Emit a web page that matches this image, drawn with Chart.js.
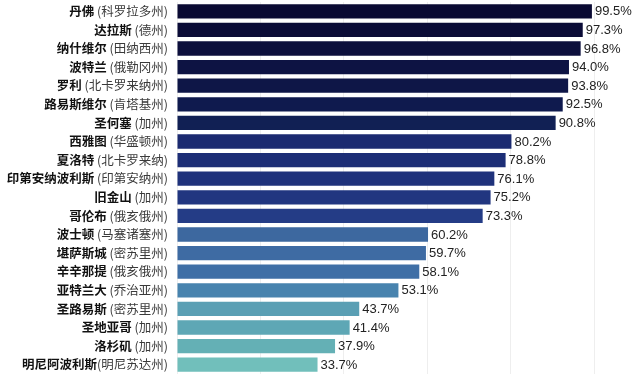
<!DOCTYPE html>
<html>
<head>
<meta charset="utf-8">
<script src="https://cdn.jsdelivr.net/npm/chart.js@4"></script>
<style>
html,body{margin:0;padding:0;background:#fff;}
#wrap{width:640px;height:379px;position:relative;}
</style>
</head>
<body>
<div id="wrap"><canvas id="c"></canvas></div>
<script>
const cities = ['丹佛','达拉斯','纳什维尔','波特兰','罗利','路易斯维尔','圣何塞','西雅图','夏洛特','印第安纳波利斯','旧金山','哥伦布','波士顿','堪萨斯城','辛辛那提','亚特兰大','圣路易斯','圣地亚哥','洛杉矶','明尼阿波利斯'];
const states = [' (科罗拉多州)',' (德州)',' (田纳西州)',' (俄勒冈州)',' (北卡罗来纳州)',' (肯塔基州)',' (加州)',' (华盛顿州)',' (北卡罗来纳)',' (印第安纳州)',' (加州)',' (俄亥俄州)',' (马塞诸塞州)',' (密苏里州)',' (俄亥俄州)',' (乔治亚州)',' (密苏里州)',' (加州)',' (加州)','(明尼苏达州)'];
const values = [99.5,97.3,96.8,94.0,93.8,92.5,90.8,80.2,78.8,76.1,75.2,73.3,60.2,59.7,58.1,53.1,43.7,41.4,37.9,33.7];
const barColors = ['#0a0a33','#0b0c37','#0c0f3c','#0d1343','#0e1647','#0f1a4e','#112054','#1b2a70','#1d2e76','#1f327b','#213680','#243c86','#3d689f','#3e6ba3','#3f6fa6','#4883ae','#5a9fb4','#5ea7b5','#64b0b5','#71bfbb'];

const labelPlugin = {
  id: 'labels',
  afterDatasetsDraw(chart) {
    const ctx = chart.ctx;
    const y = chart.scales.y;
    const x = chart.scales.x;
    const meta = chart.getDatasetMeta(0);
    ctx.save();
    ctx.textBaseline = 'middle';
    for (let i = 0; i < cities.length; i++) {
      const py = y.getPixelForValue(i);
      const right = x.left - 9;
      ctx.font = "12.5px 'Noto Sans CJK SC'";
      const sw = ctx.measureText(states[i]).width;
      ctx.textAlign = 'right';
      ctx.fillStyle = '#3a3a3a';
      ctx.fillText(states[i], right, py);
      ctx.font = "bold 12.5px 'Noto Sans CJK SC'";
      ctx.fillStyle = '#111';
      ctx.fillText(cities[i], right - sw, py);
      const bar = meta.data[i];
      ctx.font = "13px 'Liberation Sans', Arial, sans-serif";
      ctx.textAlign = 'left';
      ctx.fillStyle = '#222';
      ctx.fillText(values[i].toFixed(1) + '%', bar.x + 3, py + 0.5);
    }
    ctx.restore();
  }
};

new Chart(document.getElementById('c'), {
  type: 'bar',
  data: {
    labels: cities,
    datasets: [{
      data: values,
      backgroundColor: barColors,
      borderWidth: 0,
      barPercentage: 0.77,
      categoryPercentage: 1.0
    }]
  },
  options: {
    indexAxis: 'y',
    responsive: true,
    maintainAspectRatio: false,
    animation: false,
    layout: { padding: { top: 2, bottom: 5, left: 0, right: 46 } },
    plugins: { legend: { display: false }, tooltip: { enabled: false } },
    scales: {
      x: {
        min: 0, max: 100,
        ticks: { display: false, stepSize: 20 },
        grid: { color: '#eeeeee', drawTicks: false, lineWidth: 1 },
        border: { display: false },
        afterFit(s) { s.height = 0; }
      },
      y: {
        ticks: { display: false },
        grid: { display: false },
        border: { display: false },
        afterFit(s) { s.width = 177; }
      }
    }
  },
  plugins: [labelPlugin]
});
</script>
</body>
</html>
